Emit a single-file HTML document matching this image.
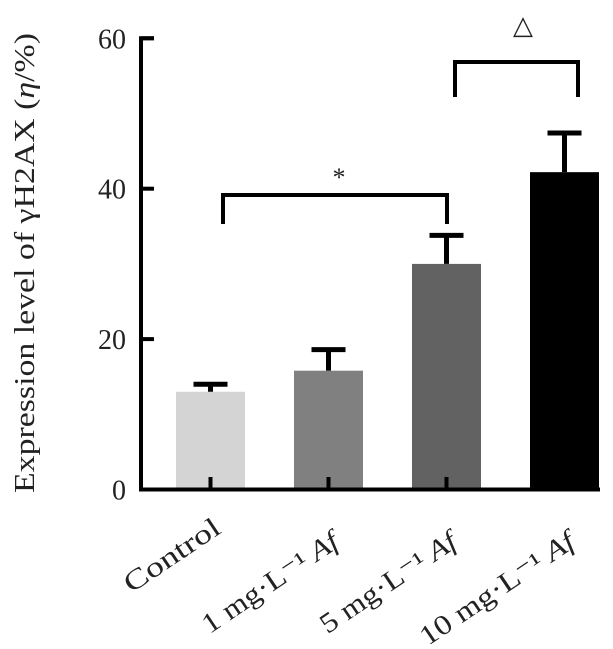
<!DOCTYPE html>
<html><head><meta charset="utf-8"><style>
body{margin:0;background:#fff}
svg text{font-family:"Liberation Serif","DejaVu Serif",serif;fill:#222}
</style></head><body>
<svg id="c" width="613" height="644" viewBox="0 0 613 644">
<text transform="translate(34,263) rotate(-90)" text-anchor="middle" font-size="29" textLength="460" lengthAdjust="spacingAndGlyphs">Expression level of γH2AX (<tspan font-style="italic">η</tspan>/%)</text>
<text x="339" y="186" text-anchor="middle" font-size="26">*</text>
<text x="523" y="34" text-anchor="middle" font-size="26">△</text>
</svg>
<script>
const categories=["Control","1 mg·L⁻¹ Af","5 mg·L⁻¹ Af","10 mg·L⁻¹ Af"];
const values=[13.0,15.8,30.0,42.2];
const errors=[1.0,2.8,3.8,5.2];
const colors=["#d4d4d4","#808080","#626262","#000000"];
const yTicks=[0,20,40,60];
const labelLens=[110,158,158,180];
const svg=document.getElementById('c');
const NS='http://www.w3.org/2000/svg';
const y=v=>489.5-v*7.52;
const xc=i=>210.5+i*118;
const bw=69;
function mk(t,a){const e=document.createElementNS(NS,t);for(const k in a)e.setAttribute(k,a[k]);svg.appendChild(e);return e;}
values.forEach((v,i)=>{
 const r=mk('rect',{x:xc(i)-bw/2,y:y(v),width:bw,height:y(0)-y(v),fill:colors[i]});
 
 
 const e=mk('path',{d:`M${xc(i)} ${y(v)}V${y(v+errors[i])}M${xc(i)-17} ${y(v+errors[i])}H${xc(i)+17}`,stroke:'#000','stroke-width':5,fill:'none'});
 
 
 const t=mk('line',{x1:xc(i),x2:xc(i),y1:477,y2:489,stroke:'#000','stroke-width':4});
 
 
 const g=mk('g',{transform:`translate(${xc(i)+12},${i==0?532:546}) rotate(-34)`});
 const l=document.createElementNS(NS,'text');
 l.setAttribute('x',-labelLens[i]);
 l.setAttribute('y',0);
 l.setAttribute('font-size',28);
 l.setAttribute('textLength',labelLens[i]);
 l.setAttribute('lengthAdjust','spacingAndGlyphs');
 l.textContent=categories[i].replace(' Af','');
 if(i>0){const s=document.createElementNS(NS,'tspan');s.setAttribute('font-style','italic');s.textContent=' Af';l.appendChild(s);}
 
 
 g.appendChild(l);
});
const ax=mk('path',{d:`M154 ${y(60)}H141V${y(0)}H600`,stroke:'#000','stroke-width':4,fill:'none'});


yTicks.forEach(v=>{
 const t=mk('line',{x1:141,x2:154,y1:y(v),y2:y(v),stroke:'#000','stroke-width':4});
 
 
 const l=mk('text',{x:126,y:y(v)+10,'text-anchor':'end','font-size':28});
 l.textContent=v;
 
 
});
const b1=mk('path',{d:`M223 224V195H447V224`,stroke:'#000','stroke-width':4,fill:'none'});


const b2=mk('path',{d:`M455 97V62H578V97`,stroke:'#000','stroke-width':4,fill:'none'});


</script>
</body></html>
